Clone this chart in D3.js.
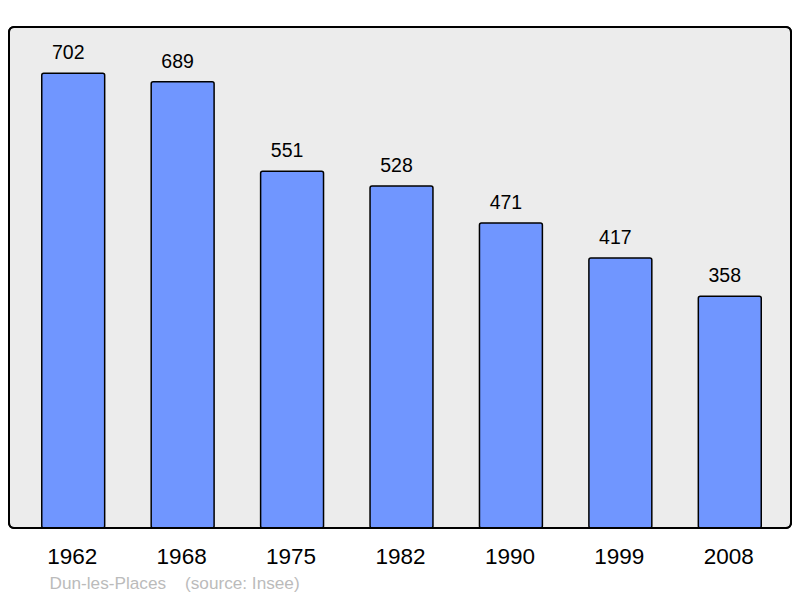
<!DOCTYPE html>
<html><head><meta charset="utf-8">
<script src="https://cdn.jsdelivr.net/npm/d3@7"></script>
<style>body{margin:0;background:#fff}</style>
</head><body>
<svg id="c" width="800" height="598"></svg>
<script>
const years = ["1962","1968","1975","1982","1990","1999","2008"];
const population = [702,689,551,528,471,417,358];
const town = "Dun-les-Places";
const source = "(source: Insee)";

const svg = d3.select("#c");
const font = "'Liberation Sans', Arial, sans-serif";

svg.append("rect").attr("x",9).attr("y",27).attr("width",782).attr("height",501)
  .attr("rx",5).attr("fill","#ececec").attr("stroke","#000").attr("stroke-width",2);

const x = d3.scaleBand().domain(years).range([18.5,784.5]).paddingInner(0.425).paddingOuter(0.2125);
const y = d3.scaleLinear().domain([0,772]).range([528,28]);

svg.selectAll("rect.bar").data(years).enter().append("rect").attr("class","bar")
  .attr("x",d=>x(d)).attr("width",x.bandwidth())
  .attr("y",(d,i)=>y(population[i])).attr("height",(d,i)=>528-y(population[i]))
  .attr("rx",2).attr("fill","#7096ff").attr("stroke","#000").attr("stroke-width",1.5);

svg.append("rect").attr("x",9).attr("y",27).attr("width",782).attr("height",501)
  .attr("rx",5).attr("fill","none").attr("stroke","#000").attr("stroke-width",2);

svg.selectAll("text.val").data(years).enter().append("text").attr("class","val")
  .attr("x",d=>x(d)+x.bandwidth()/2-5).attr("y",(d,i)=>y(population[i])-14)
  .attr("text-anchor","middle").attr("font-family",font).attr("font-size",19.5).attr("fill","#000")
  .text((d,i)=>population[i]);

svg.selectAll("text.yr").data(years).enter().append("text").attr("class","yr")
  .attr("x",d=>x(d)+x.bandwidth()/2-1).attr("y",564)
  .attr("text-anchor","middle").attr("font-family",font).attr("font-size",22.5).attr("fill","#000")
  .text(d=>d);

svg.append("text").attr("x",49.5).attr("y",589).attr("font-family",font).attr("font-size",17.2)
  .attr("fill","#bbbbbb").text(town);
svg.append("text").attr("x",185).attr("y",589).attr("font-family",font).attr("font-size",17.2)
  .attr("fill","#bbbbbb").text(source);
</script>
</body></html>
